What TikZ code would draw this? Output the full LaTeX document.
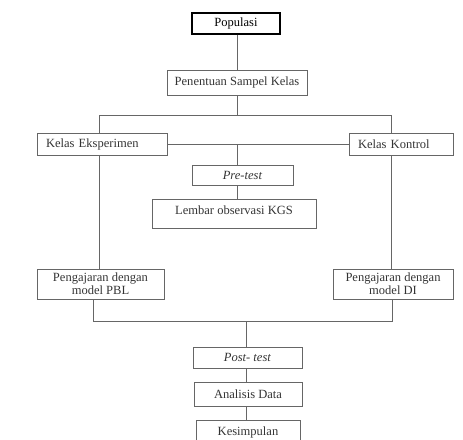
\documentclass[tikz,border=0pt]{standalone}
\usepackage{fontspec}
\setmainfont{Liberation Serif}
\begin{document}
\begin{tikzpicture}[x=0.75pt, y=-0.75pt,
        kotak/.style = {draw = black!60, line width = 0.75pt, inner sep = 2pt, text = black!80, font = \fontsize{9.4}{9.5}\selectfont, align = center},
        kotakkiri/.style = {kotak, inner xsep = 6.75pt, align = left},
        garis/.style = {draw = black!60, line width = 0.75pt}]
        \useasboundingbox (0,0) rectangle (463,439);
        % kotak-kotak
        \node[kotak, draw = black, text = black, line width = 0.9pt, minimum width = 66pt, minimum height = 15.75pt] (pop) at (236,23.5) {Populasi};
        \node[kotak, minimum width = 105pt, minimum height = 18.75pt] (sampel) at (237,82.5) {Penentuan Sampel Kelas};
        \node[kotakkiri, text width = 84pt, minimum height = 16.5pt] (eks) at (102,144) {Kelas Eksperimen};
        \node[kotakkiri, text width = 64.5pt, minimum height = 16.5pt] (kon) at (401,144) {Kelas Kontrol};
        \node[kotak, minimum width = 75.75pt, minimum height = 15pt] (pre) at (242.5,175) {\textit{Pre-test}};
        \node[kotak, minimum width = 123pt, inner ysep = 3pt, text height = 8.25pt, text depth = 7.5pt, anchor = north] (lembar) at (234,199) {Lembar observasi KGS};
        \node[kotak, minimum width = 95.25pt, minimum height = 22.5pt] (pbl) at (100.5,284) {Pengajaran dengan\\model PBL};
        \node[kotak, minimum width = 90pt, minimum height = 22.5pt] (di) at (393,284) {Pengajaran dengan\\model DI};
        \node[kotak, minimum width = 81.75pt, minimum height = 15.75pt] (post) at (247.5,357.5) {\textit{Post- test}};
        \node[kotak, minimum width = 81pt, minimum height = 18pt] (analisis) at (248,394) {Analisis Data};
        \node[kotak, minimum width = 78pt, minimum height = 18pt] (simpul) at (248,432) {Kesimpulan};
        % titik bantu
        \coordinate (bl) at (99,115);
        \coordinate (br) at (391,115);
        \coordinate (mid) at (237,144);
        \coordinate (jl) at (93,321);
        \coordinate (jr) at (392,321);
        \coordinate (jm) at (246,321);
        % garis penghubung
        \draw[garis] (pop.south -| sampel) -- (sampel.north);
        \draw[garis] (sampel.south) -- (sampel |- bl);
        \draw[garis] (eks.north -| bl) -- (bl) -- (br) -- (kon.north -| br);
        \draw[garis] (eks.east) -- (kon.west);
        \draw[garis] (mid) -- (pre.north -| mid);
        \draw[garis] (pre.south -| mid) -- (lembar.north -| mid);
        \draw[garis] (eks.south -| bl) -- (pbl.north -| bl);
        \draw[garis] (kon.south -| br) -- (di.north -| br);
        \draw[garis] (pbl.south -| jl) -- (jl) -- (jr) -- (di.south -| jr);
        \draw[garis] (jm) -- (post.north -| jm);
        \draw[garis] (post.south -| jm) -- (analisis.north -| jm);
        \draw[garis] (analisis.south -| jm) -- (simpul.north -| jm);
\end{tikzpicture}
\end{document}
